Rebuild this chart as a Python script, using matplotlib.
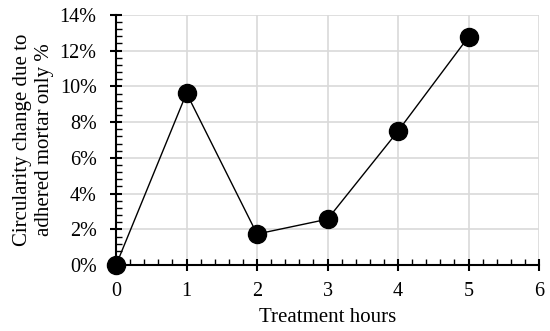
import matplotlib.pyplot as plt
from matplotlib.ticker import MultipleLocator, PercentFormatter

hours = [0, 1, 2, 3, 4, 5]
change = [0.0, 9.62, 1.74, 2.57, 7.5, 12.77]

plt.rcParams['font.family'] = ['Liberation Serif', 'DejaVu Serif']

fig = plt.figure(figsize=(5.5, 3.31), dpi=100)
ax = fig.add_axes([0.211, 0.199, 0.769, 0.756])

ax.plot(hours, change, color='black', linewidth=1, marker='o', markersize=13,
        clip_on=False, zorder=5)

ax.set_xlim(0, 6)
ax.set_ylim(0, 14)
ax.xaxis.set_major_locator(MultipleLocator(1))
ax.xaxis.set_minor_locator(MultipleLocator(0.2))
ax.yaxis.set_major_locator(MultipleLocator(2))
ax.yaxis.set_minor_locator(MultipleLocator(0.4))
ax.yaxis.set_major_formatter(PercentFormatter(decimals=0))

ax.grid(True, which='major', color='#d9d9d9', linewidth=1.2)
ax.set_axisbelow(True)
for s in ['top', 'right']:
    ax.spines[s].set_visible(False)
for s in ['left', 'bottom']:
    ax.spines[s].set_linewidth(1.5)

ax.tick_params(which='major', direction='inout', length=8, width=1.5, labelsize=14.5)
ax.tick_params(which='minor', direction='in', length=4, width=1)
ax.tick_params(axis='x', pad=8)
ax.tick_params(axis='y', pad=10)

ax.set_xlabel('Treatment hours', fontsize=15, labelpad=5)
ax.set_ylabel('Circularity change due to\nadhered mortar only %', fontsize=15, labelpad=4)

fig.savefig('out.png', dpi=100)
